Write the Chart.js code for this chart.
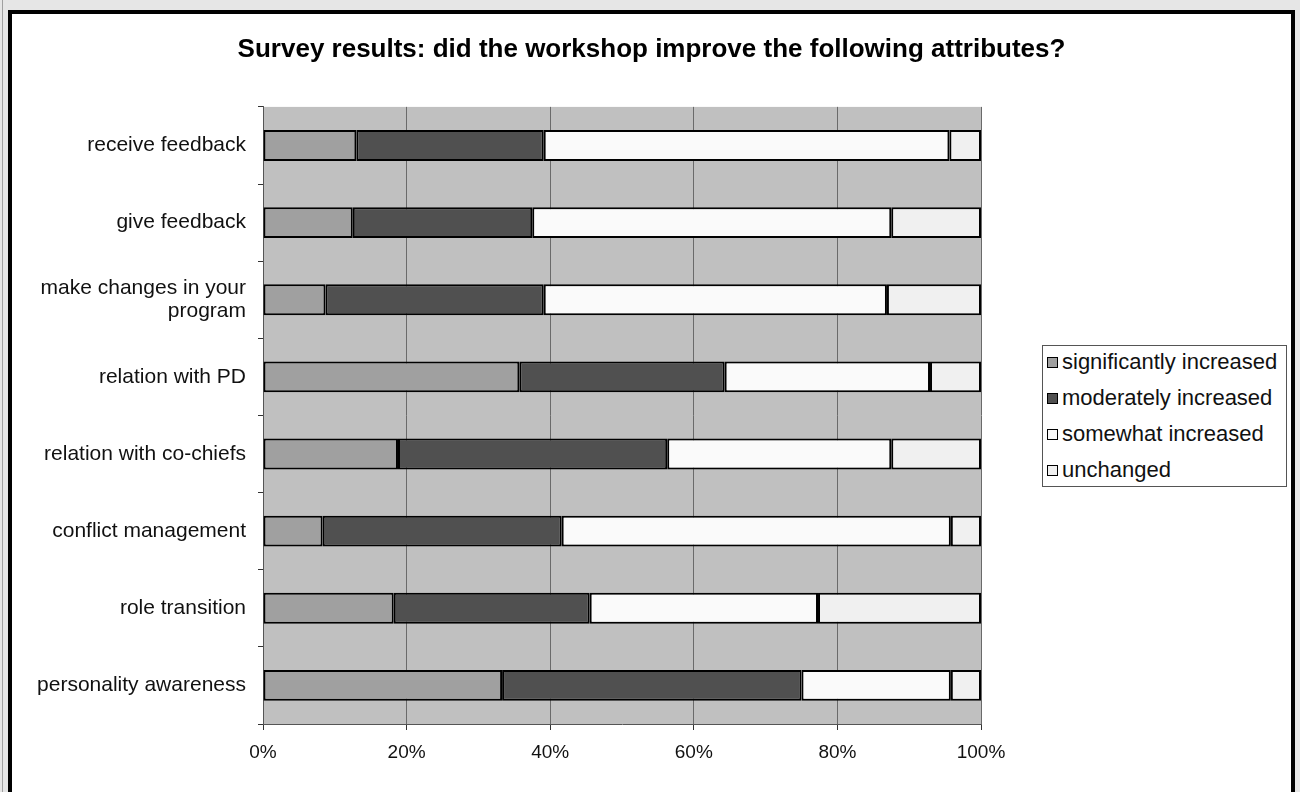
<!DOCTYPE html>
<html lang="en">
<head>
    <meta charset="UTF-8">
    <title>Survey results</title>
    <script src="https://cdn.jsdelivr.net/npm/chart.js"></script>
    <style>
        body {
            margin: 0;
            background-color: #e6e6e6;
            font-family: Arial, "Liberation Sans", sans-serif;
            overflow: hidden;
        }

        .edge {
            position: absolute;
            left: 2px;
            top: 0;
            width: 1px;
            height: 792px;
            background: #a0a0a0;
        }

        .frame {
            position: absolute;
            left: 8px;
            top: 10px;
            width: 1279px;
            height: 800px;
            border: 4px solid #000;
            border-bottom: none;
            background: #fff;
        }

        .chart-container {
            position: absolute;
            left: 12px;
            top: 14px;
            width: 1279px;
            height: 778px;
        }

        .legend {
            position: absolute;
            left: 1042px;
            top: 345px;
            width: 243px;
            height: 140px;
            border: 1px solid #555;
            background: #fff;
            font-size: 22px;
            color: #111;
        }

        .legend div {
            height: 36px;
            line-height: 32px;
            white-space: nowrap;
            padding-left: 4px;
        }

        .legend span {
            display: inline-block;
            width: 9px;
            height: 9px;
            border: 1px solid #000;
            margin-right: 4px;
            vertical-align: middle;
            position: relative;
            top: -1px;
        }
    </style>
</head>
<body>
    <div class="edge"></div>
    <div class="frame"></div>
    <div class="chart-container">
        <canvas id="surveyChart" width="1279" height="778"></canvas>
    </div>
    <div class="legend" id="legend"></div>

    <script>
        const categories = [
            'receive feedback',
            'give feedback',
            ['make changes in your', 'program'],
            'relation with PD',
            'relation with co-chiefs',
            'conflict management',
            'role transition',
            'personality awareness'
        ];
        const seriesNames = ['significantly increased', 'moderately increased', 'somewhat increased', 'unchanged'];
        const significantly = [13.0, 12.5, 8.7, 35.7, 18.8, 8.3, 18.2, 33.3];
        const moderately = [26.1, 25.0, 30.4, 28.6, 37.5, 33.3, 27.3, 41.7];
        const somewhat = [56.5, 50.0, 47.8, 28.6, 31.2, 54.2, 31.8, 20.8];
        const unchanged = [4.4, 12.5, 13.1, 7.1, 12.5, 4.2, 22.7, 4.2];
        const xTicks = [0, 20, 40, 60, 80, 100];

        const colors = ['#a0a0a0', '#505050', '#fafafa', '#f0f0f0'];
        const seriesValues = [significantly, moderately, somewhat, unchanged];

        // grey plot background like the old spreadsheet charts
        const plotBackground = {
            id: 'plotBackground',
            beforeDraw(chart) {
                const { ctx, chartArea } = chart;
                ctx.save();
                ctx.fillStyle = '#c0c0c0';
                ctx.fillRect(chartArea.left, chartArea.top, chartArea.right - chartArea.left, chartArea.bottom - chartArea.top);
                ctx.restore();
            }
        };

        const ctx = document.getElementById('surveyChart').getContext('2d');
        const surveyChart = new Chart(ctx, {
            type: 'bar',
            data: {
                labels: categories,
                datasets: seriesNames.map((name, i) => ({
                    label: name,
                    data: seriesValues[i],
                    backgroundColor: colors[i],
                    borderColor: '#000',
                    borderWidth: 2,
                    borderSkipped: false,
                    categoryPercentage: 1,
                    barPercentage: 0.4,
                })),
            },
            options: {
                indexAxis: 'y',
                responsive: false,
                animation: false,
                layout: { padding: 0 },
                scales: {
                    x: {
                        stacked: true,
                        min: 0,
                        max: 100,
                        afterBuildTicks: (scale) => { scale.ticks = xTicks.map(v => ({ value: v })); },
                        afterFit: (scale) => { scale.height = 68; },
                        grid: { color: '#6a6a6a', lineWidth: 1, tickLength: 6, tickColor: '#333' },
                        border: { color: '#555', width: 1 },
                        ticks: {
                            padding: 11,
                            color: '#111',
                            font: { family: 'Arial', size: 19 },
                            callback: (v) => v + '%',
                        },
                    },
                    y: {
                        stacked: true,
                        afterFit: (scale) => { scale.width = 251; },
                        grid: { drawOnChartArea: false, offset: true, tickLength: 5, color: '#333' },
                        border: { color: '#555', width: 1 },
                        ticks: {
                            padding: 12,
                            color: '#111',
                            font: { family: 'Arial', size: 21, lineHeight: 1.1 },
                        },
                    },
                    // empty right axis, keeps room for the legend box
                    yRight: {
                        type: 'category',
                        position: 'right',
                        afterFit: (scale) => { scale.width = 310; },
                        grid: { display: false },
                        border: { display: false },
                        ticks: { display: false },
                    },
                },
                plugins: {
                    legend: { display: false },
                    tooltip: { enabled: false },
                    title: {
                        display: true,
                        text: 'Survey results: did the workshop improve the following attributes?',
                        color: '#000',
                        font: { family: 'Arial', size: 26, weight: 'bold', lineHeight: 1.15 },
                        padding: { top: 21, bottom: 42 },
                    },
                },
            },
            plugins: [plotBackground],
        });

        // legend as a boxed list on the right
        const legendEl = document.getElementById('legend');
        seriesNames.forEach((name, i) => {
            const row = document.createElement('div');
            row.innerHTML = '<span style="background:' + colors[i] + '"></span>' + name;
            legendEl.appendChild(row);
        });
    </script>
</body>
</html>
